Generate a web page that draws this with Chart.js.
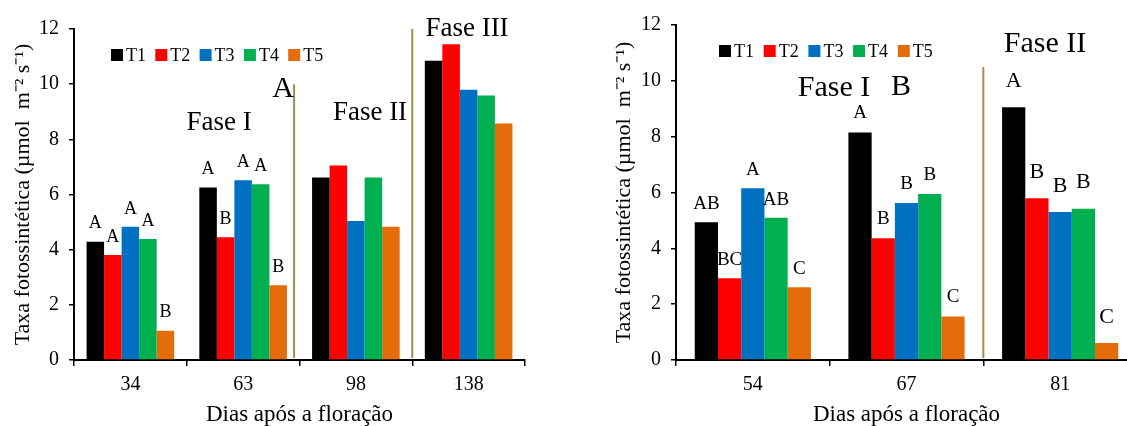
<!DOCTYPE html>
<html>
<head>
<meta charset="utf-8">
<script src="https://cdn.jsdelivr.net/npm/chart.js@4"></script>
<style>
    html, body { margin: 0; padding: 0; background: #fff; overflow: hidden; width: 1127px; height: 426px; }
    .painel { position: absolute; top: 0; height: 426px; }
    #painelA { left: 0; width: 560px; }
    #painelB { left: 570px; width: 577px; }
</style>
</head>
<body>
<div class="painel" id="painelA"><canvas id="graficoA" width="560" height="426"></canvas></div>
<div class="painel" id="painelB"><canvas id="graficoB" width="577" height="426"></canvas></div>
<script>
const tratamentos = ['T1', 'T2', 'T3', 'T4', 'T5'];
const cores = ['#000000', '#FF0000', '#0070C0', '#00B050', '#E46C0A'];
const ticksY = [0, 2, 4, 6, 8, 10, 12];

// grafico A: dias apos a floracao
const diasA = ['34', '63', '98', '138'];
const taxaA = [
    [4.29, 6.25, 6.62, 10.85],  // T1
    [3.81, 4.45, 7.05, 11.45],  // T2
    [4.83, 6.52, 5.04, 9.80],   // T3
    [4.39, 6.37, 6.62, 9.59],   // T4
    [1.06, 2.71, 4.83, 8.57]    // T5
];
const letrasA = [
    ['A', 'A', '', ''],
    ['A', 'B', '', ''],
    ['A', 'A', '', ''],
    ['A', 'A', '', ''],
    ['B', 'B', '', '']
];

// grafico B
const diasB = ['54', '67', '81'];
const taxaB = [
    [4.93, 8.15, 9.05],
    [2.93, 4.36, 5.79],
    [6.15, 5.62, 5.30],
    [5.10, 5.95, 5.42],
    [2.61, 1.56, 0.61]
];
const letrasB = [
    ['AB', 'A', 'A'],
    ['BC', 'B', 'B'],
    ['A', 'B', 'B'],
    ['AB', 'B', 'B'],
    ['C', 'C', 'C']
];

const FONTE = '"Liberation Serif", "Times New Roman", serif';
Chart.defaults.font.family = FONTE;
Chart.defaults.color = '#000';

// letras de significancia em cima de cada barra
const letrasPlugin = {
    id: 'letras',
    afterDatasetsDraw(chart, args, o) {
        const ctx = chart.ctx;
        ctx.save();
        ctx.fillStyle = '#000';
        ctx.textAlign = 'center';
        ctx.textBaseline = 'middle';
        o.letras.forEach((serie, i) => {
            chart.getDatasetMeta(i).data.forEach((barra, j) => {
                if (!serie[j]) return;
                ctx.font = o.tamanhos[j] + 'px ' + FONTE;
                ctx.fillText(serie[j], barra.x, barra.y - o.distancias[j]);
            });
        });
        ctx.restore();
    }
};

// legenda T1..T5 dentro da area do grafico
const legendaPlugin = {
    id: 'legendaT',
    afterDraw(chart, args, o) {
        const ctx = chart.ctx;
        ctx.save();
        ctx.font = o.fonte + 'px ' + FONTE;
        ctx.textBaseline = 'middle';
        chart.data.datasets.forEach((ds, i) => {
            const x = o.x + i * o.passo;
            ctx.fillStyle = ds.backgroundColor;
            ctx.fillRect(x, o.y - o.lado / 2, o.lado, o.lado);
            ctx.fillStyle = '#000';
            ctx.fillText(ds.label, x + o.lado + 3, o.y + 1);
        });
        ctx.restore();
    }
};

// linhas que separam as fases + textos
const fasesPlugin = {
    id: 'fases',
    afterDatasetsDraw(chart, args, o) {
        const {ctx, scales: {x, y}} = chart;
        ctx.save();
        ctx.strokeStyle = '#A08C50';
        ctx.lineWidth = 2;
        o.divisorias.forEach((pos, k) => {
            const px = x.getPixelForValue(pos);
            ctx.beginPath();
            ctx.moveTo(px, y.getPixelForValue(0) - 2);
            ctx.lineTo(px, y.getPixelForValue(o.alturas[k]));
            ctx.stroke();
        });
        ctx.fillStyle = '#000';
        ctx.textAlign = 'center';
        ctx.textBaseline = 'middle';
        o.textos.forEach(t => {
            ctx.font = t.tam + 'px ' + FONTE;
            ctx.fillText(t.txt, t.x, t.y);
        });
        ctx.restore();
    }
};

function montaGrafico(id, dias, taxa, letras, cfg) {
    return new Chart(document.getElementById(id), {
        type: 'bar',
        data: {
            labels: dias,
            datasets: tratamentos.map((t, i) => ({
                label: t,
                data: taxa[i],
                backgroundColor: cores[i],
                borderWidth: 0,
                barPercentage: 1,
                categoryPercentage: cfg.categoria
            }))
        },
        plugins: [letrasPlugin, legendaPlugin, fasesPlugin],
        options: {
            responsive: false,
            animation: false,
            layout: { padding: { left: 0, top: cfg.topo, right: cfg.direita, bottom: 0 } },
            scales: {
                y: {
                    min: 0,
                    max: 12,
                    afterBuildTicks: s => { s.ticks = ticksY.map(v => ({ value: v })) },
                    afterFit: s => { s.width = cfg.esquerda },
                    ticks: { font: { size: 20 }, padding: 10, color: '#000' },
                    grid: { drawOnChartArea: false, tickLength: 5, color: '#000', lineWidth: 1.5 },
                    border: { color: '#000', width: 2 },
                    title: {
                        display: true,
                        text: 'Taxa fotossintética (µmol  m⁻² s⁻¹)',
                        font: { size: 22, lineHeight: 1 },
                        color: '#000',
                        padding: { top: cfg.tituloY, bottom: 0 }
                    }
                },
                x: {
                    afterFit: s => { s.height = 66 },
                    ticks: { font: { size: 20 }, padding: 7, color: '#000' },
                    grid: { drawOnChartArea: false, tickLength: 6, color: '#000', lineWidth: 1.5, offset: true },
                    border: { color: '#000', width: 2 },
                    title: {
                        display: true,
                        text: 'Dias após a floração',
                        font: { size: 23, lineHeight: 1 },
                        color: '#000',
                        padding: { top: 0, bottom: 0 }
                    }
                }
            },
            plugins: {
                legend: { display: false },
                tooltip: { enabled: false },
                letras: { letras: letras, tamanhos: cfg.tamLetras, distancias: cfg.distLetras },
                legendaT: cfg.legenda,
                fases: cfg.fases
            }
        }
    });
}

montaGrafico('graficoA', diasA, taxaA, letrasA, {
    categoria: 0.777,
    topo: 29,
    direita: 35,
    esquerda: 74,
    tituloY: 12,
    tamLetras: [18, 18, 18, 18],
    distLetras: [18, 18, 18, 18],
    legenda: { x: 111, y: 55, lado: 12, passo: 44.3, fonte: 18 },
    fases: {
        divisorias: [1.452, 2.5],
        alturas: [10, 12],
        textos: [
            { txt: 'Fase I', x: 219, y: 123, tam: 27 },
            { txt: 'A', x: 283, y: 89, tam: 30 },
            { txt: 'Fase II', x: 370, y: 113, tam: 27 },
            { txt: 'Fase III', x: 467, y: 29, tam: 27 }
        ]
    }
});

montaGrafico('graficoB', diasB, taxaB, letrasB, {
    categoria: 0.756,
    topo: 25,
    direita: 10,
    esquerda: 106,
    tituloY: 43,
    tamLetras: [19, 19, 22],
    distLetras: [18, 19, 26],
    legenda: { x: 149, y: 51, lado: 12, passo: 44.7, fonte: 18 },
    fases: {
        divisorias: [1.5],
        alturas: [10.5],
        textos: [
            { txt: 'Fase I', x: 264, y: 88, tam: 30 },
            { txt: 'B', x: 331, y: 87, tam: 30 },
            { txt: 'Fase II', x: 475, y: 44, tam: 30 }
        ]
    }
});
</script>
</body>
</html>
